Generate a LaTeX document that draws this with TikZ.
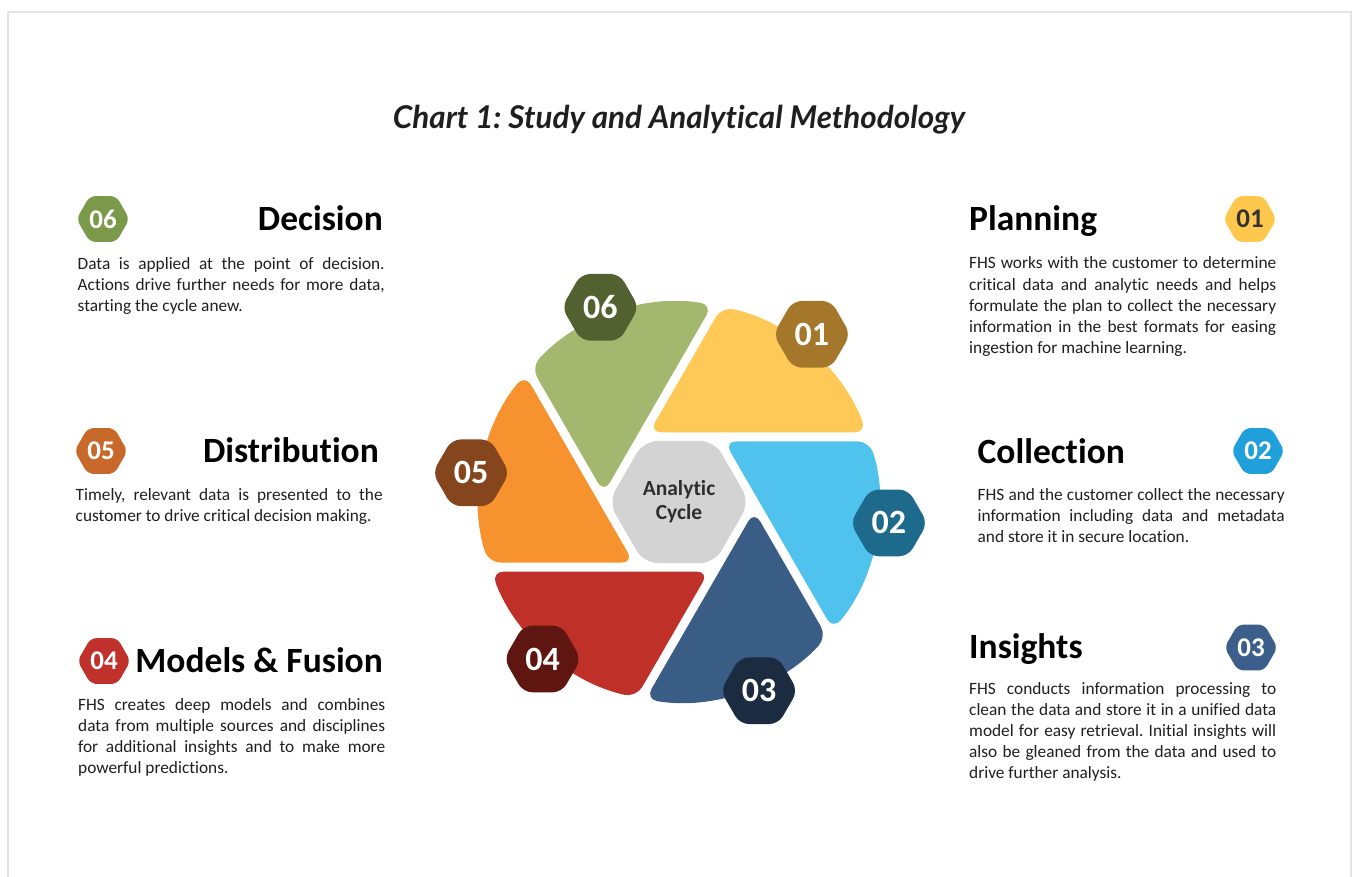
\documentclass[tikz,border=0pt]{standalone}
\usepackage{fontspec}
\setmainfont{Carlito}[Ligatures={NoCommon}]
\newfontfamily\titlefont{Lato}[Ligatures={NoCommon}]
\usetikzlibrary{shapes.geometric,positioning}
\frenchspacing

\definecolor{framegray}{HTML}{E4E4E4}
\definecolor{segyellow}{HTML}{FFC957}
\definecolor{segblue}{HTML}{4FC2EE}
\definecolor{segnavy}{HTML}{3A5D85}
\definecolor{segred}{HTML}{BF3028}
\definecolor{segorange}{HTML}{F6932F}
\definecolor{seggreen}{HTML}{A3B76F}
\definecolor{bigyellow}{HTML}{A4772A}
\definecolor{bigblue}{HTML}{1E6A8D}
\definecolor{bignavy}{HTML}{1B2B40}
\definecolor{bigred}{HTML}{5F1510}
\definecolor{bigorange}{HTML}{85461E}
\definecolor{biggreen}{HTML}{536131}
\definecolor{smallyellow}{HTML}{FFC84D}
\definecolor{smallblue}{HTML}{20A0DB}
\definecolor{smallnavy}{HTML}{3C5E8A}
\definecolor{smallred}{HTML}{C0312B}
\definecolor{smallorange}{HTML}{C8692B}
\definecolor{smallgreen}{HTML}{7A9A49}
\definecolor{hubgray}{HTML}{D3D3D3}

% geometry of the cycle, in units of 100px
\def\hexR{0.7}
\def\segGap{0.09}
\def\outR{2.0}

\tikzset{
	hexbadge/.style={regular polygon, regular polygon sides=6, inner sep=0pt,
		rounded corners=6, text=white, font=\bfseries\fontsize{27}{27}\selectfont},
	smallhex/.style={hexbadge, minimum size=53},
	bighex/.style={hexbadge, minimum size=77, rounded corners=9,
		font=\bfseries\fontsize{34}{34}\selectfont},
	hub/.style={regular polygon, regular polygon sides=6, minimum size=141, inner sep=0pt,
		rounded corners=14, fill=hubgray, text=black!82, align=center,
		font=\bfseries\fontsize{21.5}{24}\selectfont},
	heading/.style={inner sep=0pt, font=\bfseries\fontsize{35.5}{40}\selectfont},
	blurb/.style={inner sep=0pt, text width=307, align=justify, text=black!88,
		font=\fontsize{17.3}{21.2}\selectfont},
}

% one piece of the cycle: #1 = its number, #2 = colour
\newcommand{\cycseg}[2]{%
	\pgfmathsetmacro{\segk}{3-#1}
	\pgfmathsetmacro{\ua}{60*((\segk)-1)}
	\pgfmathsetmacro{\ub}{60*((\segk)-2)}
	\pgfmathsetmacro{\apx}{\hexR*cos(60*(\segk))+\segGap/cos(30)*cos(\ua)}
	\pgfmathsetmacro{\apy}{\hexR*sin(60*(\segk))+\segGap/cos(30)*sin(\ua)}
	\pgfmathsetmacro{\pa}{(\apx)*cos(\ua)+(\apy)*sin(\ua)}
	\pgfmathsetmacro{\pb}{(\apx)*cos(\ub)+(\apy)*sin(\ub)}
	\pgfmathsetmacro{\pp}{(\apx)*(\apx)+(\apy)*(\apy)}
	\pgfmathsetmacro{\da}{0-(\pa)+sqrt((\pa)*(\pa)-(\pp)+\outR*\outR)}
	\pgfmathsetmacro{\db}{0-(\pb)+sqrt((\pb)*(\pb)-(\pp)+\outR*\outR)}
	\pgfmathsetmacro{\angA}{atan2((\apy)+(\da)*sin(\ua),(\apx)+(\da)*cos(\ua))}
	\pgfmathsetmacro{\angB}{atan2((\apy)+(\db)*sin(\ub),(\apx)+(\db)*cos(\ub))}
	\pgfmathsetmacro{\angA}{(\angB)+mod((\angA)-(\angB)+720,360)}
	\fill[#2, rounded corners=12] (\apx,\apy) -- ++(\ub:\db)
		arc[start angle=\angB, end angle=\angA, radius=\outR] -- cycle;
}

\begin{document}
\begin{tikzpicture}[x=1pt,y=1pt]
	\useasboundingbox (0,0) rectangle (1353,-877);
	\draw[framegray, line width=2.5] (8,-877) -- (8,-12) -- (1351,-12) -- (1351,-877);

	\node[anchor=base, text=black!88, font=\titlefont\bfseries\itshape\fontsize{31.4}{31.4}\selectfont]
		(title) at (679,-129) {Chart 1: Study and Analytical Methodology};

	% the cycle
	\begin{scope}[shift={(679,-502)}, x=100pt, y=100pt]
		\foreach \n/\col in {1/segyellow,2/segblue,3/segnavy,4/segred,5/segorange,6/seggreen}
			{\cycseg{\n}{\col}}
		\node[hub] (cycle) at (0,0) {Analytic\\Cycle};
		\foreach \n/\col/\ang/\rad in {1/bigyellow/51.6/2.14,2/bigblue/-5.7/2.11,3/bignavy/-67/2.05,
				4/bigred/-131/2.08,5/bigorange/172/2.1,6/biggreen/112/2.1}
			\node[bighex, fill=\col] (big\n) at (\ang:\rad) {0\n};
	\end{scope}

	% left column
	\node[smallhex, fill=smallgreen] (s6) at (103,-219) {06};
	\node[heading, anchor=base east] (h6) at (383,-230.5) {Decision};
	\node[blurb, anchor=base west] (t6) at (77.5,-269.5) {Data is applied at the point of decision.\linebreak
		Actions drive further needs for more data,\linebreak starting the cycle anew.};

	\node[smallhex, fill=smallorange] (s5) at (101,-451) {05};
	\node[heading, anchor=base east] (h5) at (379,-462) {Distribution};
	\node[blurb, anchor=base west] (t5) at (75.5,-500.5) {Timely, relevant data is presented to the\linebreak
		customer to drive critical decision making.};

	\node[smallhex, fill=smallred] (s4) at (104,-661) {04};
	\node[heading, anchor=base east] (h4) at (383,-672) {Models \& Fusion};
	\node[blurb, anchor=base west] (t4) at (78,-710) {FHS creates deep models and combines\linebreak
		data from multiple sources and disciplines\linebreak for additional insights and to make more\linebreak
		powerful predictions.};

	% right column
	\node[smallhex, fill=smallyellow, text=black!80] (s1) at (1250,-219) {01};
	\node[heading, anchor=base west] (h1) at (969,-230.5) {Planning};
	\node[blurb, anchor=base west] (t1) at (969,-269) {FHS works with the customer to determine\linebreak
		critical data and analytic needs and helps\linebreak formulate the plan to collect the necessary\linebreak
		information in the best formats for easing\linebreak ingestion for machine learning.};

	\node[smallhex, fill=smallblue] (s2) at (1258,-451) {02};
	\node[heading, anchor=base west] (h2) at (977.5,-463) {Collection};
	\node[blurb, anchor=base west] (t2) at (977.5,-500) {FHS and the customer collect the necessary\linebreak
		information including data and metadata\linebreak and store it in secure location.};

	\node[smallhex, fill=smallnavy] (s3) at (1251,-647.5) {03};
	\node[heading, anchor=base west] (h3) at (969,-658) {Insights};
	\node[blurb, anchor=base west] (t3) at (969,-694) {FHS conducts information processing to\linebreak
		clean the data and store it in a unified data\linebreak model for easy retrieval. Initial insights will\linebreak
		also be gleaned from the data and used to\linebreak drive further analysis.};
\end{tikzpicture}
\end{document}
